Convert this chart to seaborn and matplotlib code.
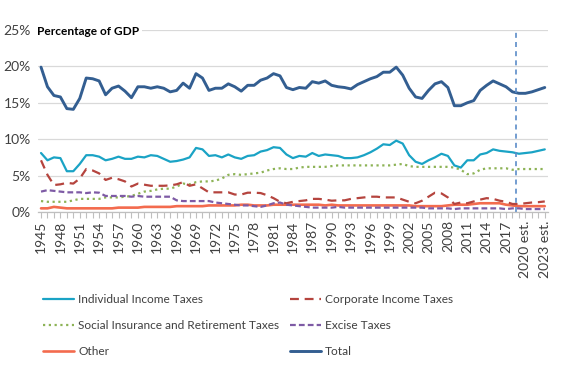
import matplotlib
matplotlib.use("Agg")
import matplotlib.pyplot as plt
import seaborn as sns
import pandas as pd
import numpy as np

# ── Data (percent of GDP) ─────────────────────────────────
years = list(range(1945, 2024))
year_labels = [str(y) for y in years[:75]] + ["2020 est.", "2021 est.", "2022 est.", "2023 est."]

individual = [8.1, 7.1, 7.5, 7.4, 5.6, 5.6, 6.6, 7.8, 7.8, 7.6,
              7.1, 7.3, 7.6, 7.3, 7.3, 7.6, 7.5, 7.8, 7.7, 7.3,
              6.9, 7.0, 7.2, 7.5, 8.8, 8.6, 7.7, 7.8, 7.5, 7.9,
              7.5, 7.3, 7.7, 7.8, 8.3, 8.5, 8.9, 8.8, 7.9, 7.4,
              7.7, 7.6, 8.1, 7.7, 7.9, 7.8, 7.7, 7.4, 7.4, 7.5,
              7.8, 8.2, 8.7, 9.3, 9.2, 9.8, 9.4, 7.8, 6.9, 6.6,
              7.1, 7.5, 8.0, 7.7, 6.4, 6.1, 7.1, 7.1, 7.9, 8.1,
              8.6, 8.4, 8.3, 8.2, 8.0, 8.1, 8.2, 8.4, 8.6]

corporate = [7.1, 5.1, 3.7, 3.8, 4.0, 3.9, 4.6, 5.9, 5.7, 5.3,
             4.4, 4.7, 4.5, 4.2, 3.5, 3.9, 3.75, 3.6, 3.6, 3.6,
             3.65, 3.8, 4.1, 3.6, 3.8, 3.25, 2.7, 2.7, 2.7, 2.7,
             2.4, 2.4, 2.65, 2.65, 2.6, 2.3, 1.9, 1.4, 1.2, 1.4,
             1.5, 1.6, 1.8, 1.8, 1.7, 1.55, 1.6, 1.6, 1.8, 1.9,
             2.0, 2.1, 2.1, 2.0, 2.0, 2.0, 1.7, 1.4, 1.2, 1.55,
             2.1, 2.65, 2.55, 2.0, 1.1, 1.3, 1.2, 1.45, 1.7, 1.9,
             1.8, 1.55, 1.4, 1.1, 1.1, 1.2, 1.3, 1.35, 1.45]

social = [1.5, 1.4, 1.4, 1.4, 1.4, 1.6, 1.8, 1.8, 1.8, 1.8,
          2.0, 2.0, 2.0, 2.1, 2.2, 2.5, 2.8, 2.9, 3.1, 3.2,
          3.2, 3.5, 3.9, 3.8, 4.1, 4.2, 4.2, 4.3, 4.6, 5.1,
          5.2, 5.1, 5.2, 5.3, 5.4, 5.7, 5.9, 6.0, 5.9, 5.9,
          6.1, 6.2, 6.2, 6.2, 6.2, 6.3, 6.4, 6.4, 6.4, 6.4,
          6.4, 6.4, 6.4, 6.4, 6.4, 6.5, 6.6, 6.3, 6.2, 6.2,
          6.2, 6.2, 6.2, 6.2, 6.1, 5.8, 5.2, 5.3, 5.8, 6.0,
          6.0, 6.0, 6.0, 5.8, 5.9, 5.9, 5.9, 5.9, 5.9]

excise = [2.8, 3.0, 2.9, 2.8, 2.7, 2.7, 2.7, 2.6, 2.7, 2.65,
          2.2, 2.2, 2.2, 2.2, 2.1, 2.2, 2.1, 2.1, 2.1, 2.1,
          2.1, 1.6, 1.5, 1.5, 1.5, 1.5, 1.5, 1.3, 1.2, 1.1,
          1.0, 0.9, 0.9, 0.8, 0.7, 0.9, 1.2, 1.3, 1.0, 0.9,
          0.8, 0.7, 0.6, 0.6, 0.6, 0.6, 0.7, 0.6, 0.6, 0.6,
          0.6, 0.6, 0.6, 0.6, 0.6, 0.6, 0.6, 0.6, 0.6, 0.6,
          0.5, 0.5, 0.5, 0.5, 0.4, 0.5, 0.5, 0.5, 0.5, 0.5,
          0.5, 0.5, 0.4, 0.5, 0.5, 0.4, 0.4, 0.4, 0.4]

other = [0.5, 0.5, 0.7, 0.6, 0.5, 0.5, 0.5, 0.5, 0.5, 0.5,
         0.5, 0.5, 0.6, 0.6, 0.6, 0.6, 0.7, 0.7, 0.7, 0.7,
         0.7, 0.8, 0.8, 0.8, 0.8, 0.8, 0.9, 0.9, 0.9, 0.9,
         0.9, 1.0, 1.0, 0.9, 0.9, 0.9, 1.0, 1.0, 1.0, 1.0,
         1.0, 1.0, 1.0, 1.0, 0.9, 1.0, 0.9, 0.9, 0.9, 0.9,
         0.9, 0.9, 0.9, 0.9, 0.9, 0.9, 0.9, 0.9, 0.8, 0.8,
         0.8, 0.8, 0.8, 0.9, 1.0, 1.0, 1.0, 1.1, 1.2, 1.2,
         1.2, 1.2, 1.0, 0.9, 0.8, 0.8, 0.8, 0.8, 0.8]

total = [19.9, 17.2, 16.0, 15.8, 14.2, 14.1, 15.6, 18.4, 18.3, 18.0,
         16.1, 17.0, 17.3, 16.6, 15.7, 17.2, 17.2, 17.0, 17.2, 17.0,
         16.5, 16.7, 17.7, 17.0, 19.0, 18.4, 16.7, 17.0, 17.0, 17.6,
         17.2, 16.6, 17.4, 17.4, 18.1, 18.4, 19.0, 18.7, 17.1, 16.8,
         17.1, 17.0, 17.9, 17.7, 18.0, 17.4, 17.2, 17.1, 16.9, 17.5,
         17.9, 18.3, 18.6, 19.2, 19.2, 19.9, 18.8, 17.0, 15.8, 15.6,
         16.7, 17.6, 17.9, 17.1, 14.6, 14.6, 15.0, 15.3, 16.7, 17.4,
         18.0, 17.6, 17.2, 16.5, 16.3, 16.3, 16.5, 16.8, 17.1]

estimate_boundary = 2018.5

# ── Style ──────────────────────────────────────────────────
sns.set_theme(style="white")
plt.rcParams["font.family"] = ["Lato", "DejaVu Sans"]

series = [
    ("Individual Income Taxes", individual, "#1AA3C5", "-", 1.6),
    ("Social Insurance and Retirement Taxes", social, "#8DB356", (0, (1, 1.6)), 1.6),
    ("Other", other, "#F36B4E", "-", 1.9),
    ("Corporate Income Taxes", corporate, "#B5443E", (0, (4, 2.6)), 1.6),
    ("Excise Taxes", excise, "#7E5BA5", (0, (2.6, 1.4)), 1.6),
    ("Total", total, "#335E91", "-", 2.1),
]

fig = plt.figure(figsize=(5.76, 3.81), dpi=100)
ax = fig.add_axes([0.0656, 0.4436, 0.8858, 0.4777])

x = np.arange(len(years))
handles = []
for name, vals, color, ls, lw in series:
    df = pd.DataFrame({"x": x, "v": vals})
    sns.lineplot(data=df, x="x", y="v", ax=ax, color=color, lw=lw,
                 linestyle=ls, label=name, legend=False)
    handles.append(ax.lines[-1])

bx = years.index(2018) + (estimate_boundary - 2018)
ax.axvline(bx, color="#5B8CC8", ls=(0, (3, 2.5)), lw=1.2, ymin=0, ymax=1)

ax.set_ylim(0, 25)
ax.set_xlim(-0.5, len(years) - 0.5)
ax.set_yticks(range(0, 30, 5))
ax.set_yticklabels([f"{v}%" for v in range(0, 30, 5)], fontsize=10, color="#404040")
ax.yaxis.grid(True, color="#D9D9D9", lw=0.9)
ax.tick_params(axis="y", length=0, pad=5)

ax.set_xticks(x)
ax.set_xticklabels([lab if i % 3 == 0 else "" for i, lab in enumerate(year_labels)],
                   rotation=90, fontsize=10, color="#404040")
ax.tick_params(axis="x", length=4, width=0.8, color="#BFBFBF", pad=2, bottom=True)
ax.set_xlabel("")
ax.set_ylabel("")

for side in ["top", "right", "left"]:
    ax.spines[side].set_visible(False)
ax.spines["bottom"].set_color("#BFBFBF")
ax.spines["bottom"].set_linewidth(0.9)

ax.text(-0.6, 24.8, "Percentage of GDP", fontsize=8.6, fontweight="bold",
        color="#000000", ha="left", va="center",
        bbox=dict(facecolor="white", edgecolor="none", pad=2))

# legend: two columns placed separately
leg_kw = dict(loc="upper left", frameon=False, fontsize=8.6, handlelength=2.6,
              handletextpad=0.35, labelspacing=1.25, borderpad=0,
              labelcolor="#404040")
leg1 = fig.legend(handles=handles[:3], labels=[s[0] for s in series[:3]],
                  bbox_to_anchor=(0.064, 0.244), **leg_kw)
leg2 = fig.legend(handles=handles[3:], labels=[s[0] for s in series[3:]],
                  bbox_to_anchor=(0.493, 0.244), **leg_kw)

fig.savefig("out.png", dpi=100, facecolor="white")
